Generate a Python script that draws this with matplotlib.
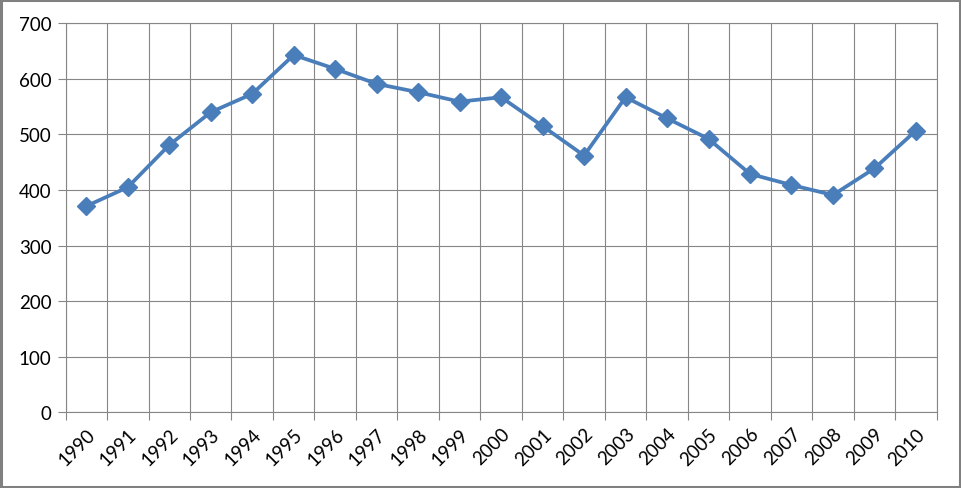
import matplotlib
matplotlib.use("Agg")
import matplotlib.pyplot as plt
from matplotlib.patches import Rectangle
from matplotlib.ticker import FixedLocator

years = ["1990", "1991", "1992", "1993", "1994", "1995", "1996", "1997", "1998", "1999", "2000",
         "2001", "2002", "2003", "2004", "2005", "2006", "2007", "2008", "2009", "2010"]
values = [371, 405, 481, 540, 573, 643, 618, 591, 576, 559, 567,
          515, 462, 567, 529, 492, 429, 409, 391, 439, 507]
yticks = [0, 100, 200, 300, 400, 500, 600, 700]

plt.rcParams['font.family'] = ['Lato', 'DejaVu Sans']

fig = plt.figure(figsize=(9.61, 4.89), dpi=100)
ax = fig.add_axes([0.0682, 0.1548, 0.9065, 0.7955])

grid_c = "#868686"
line_c = "#4A7EBB"
n = len(years)
x = list(range(n))

ax.plot(x, values, color=line_c, linewidth=2.7, marker="D", markersize=9.5,
        markerfacecolor=line_c, markeredgecolor=line_c, zorder=3)

ax.set_xlim(-0.5, n - 0.5)
ax.set_ylim(0, 700)
ax.set_yticks(yticks)
ax.set_xticks(x)
ax.set_xticklabels(years, rotation=45, ha="right", va="top", rotation_mode="anchor")
ax.xaxis.set_minor_locator(FixedLocator([i - 0.5 for i in range(n + 1)]))
ax.tick_params(axis="x", which="major", length=0, pad=9, labelsize=13.5)
ax.tick_params(axis="x", which="minor", length=6, color=grid_c, width=0.8)
ax.tick_params(axis="y", which="major", length=6, color=grid_c, width=0.8, labelsize=13.5, pad=4)
ax.grid(True, axis="y", which="major", color=grid_c, linewidth=0.8)
ax.grid(True, axis="x", which="minor", color=grid_c, linewidth=0.8)
ax.grid(False, axis="x", which="major")
for s in ax.spines.values():
    s.set_color(grid_c)
    s.set_linewidth(0.8)
ax.set_axisbelow(True)

fig.patches.append(Rectangle((0.0015, 0.003), 0.997, 0.994, transform=fig.transFigure,
                             fill=False, edgecolor="#808080", linewidth=2.2))

fig.savefig("out.png", dpi=100)
